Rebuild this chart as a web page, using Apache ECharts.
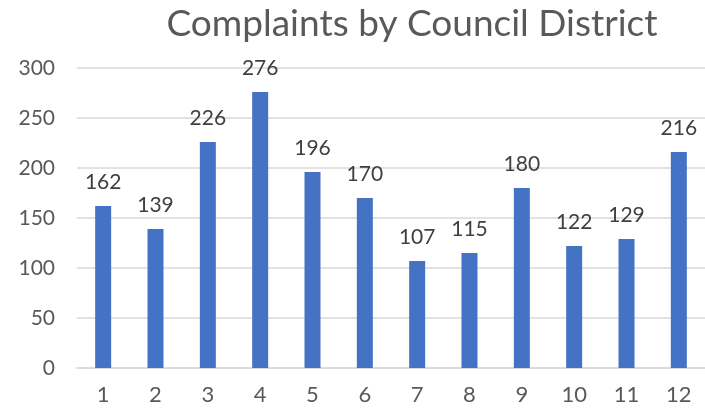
<!DOCTYPE html>
<html>
<head>
<meta charset="utf-8">
<script src="https://cdn.jsdelivr.net/npm/echarts@6/dist/echarts.min.js"></script>
<style>
  html, body { margin: 0; padding: 0; background: #fff; }
  #chart { width: 705px; height: 411px; }
</style>
</head>
<body>
<div id="chart"></div>
<script>
var districts = ['1', '2', '3', '4', '5', '6', '7', '8', '9', '10', '11', '12'];
var complaints = [162, 139, 226, 276, 196, 170, 107, 115, 180, 122, 129, 216];
var yTicks = { min: 0, max: 300, interval: 50 };

var font = 'Lato, "Noto Sans", sans-serif';
var ink = '#595959';

var chart = echarts.init(document.getElementById('chart'), null, { renderer: 'canvas' });
chart.setOption({
  animation: false,
  title: {
    text: 'Complaints by Council District',
    left: 407,
    textAlign: 'center',
    top: 1,
    textStyle: { color: ink, fontFamily: font, fontSize: 37, fontWeight: 'normal' }
  },
  grid: { left: 77, right: 0, top: 68, bottom: 43 },
  xAxis: {
    type: 'category',
    data: districts,
    axisLine: { lineStyle: { color: '#d9d9d9', width: 1.5 } },
    axisTick: { show: false },
    axisLabel: { color: ink, fontFamily: font, fontSize: 22, margin: 16 }
  },
  yAxis: {
    type: 'value',
    min: yTicks.min,
    max: yTicks.max,
    interval: yTicks.interval,
    axisLine: { show: false },
    axisTick: { show: false },
    axisLabel: { color: ink, fontFamily: font, fontSize: 21, margin: 22 },
    splitLine: { lineStyle: { color: '#d9d9d9', width: 1.5 } }
  },
  series: [{
    type: 'bar',
    data: complaints,
    barWidth: 16,
    itemStyle: { color: '#4472c4' },
    label: {
      show: true,
      position: 'top',
      distance: 13,
      color: '#404040',
      fontFamily: font,
      fontSize: 21
    }
  }]
});
</script>
</body>
</html>
